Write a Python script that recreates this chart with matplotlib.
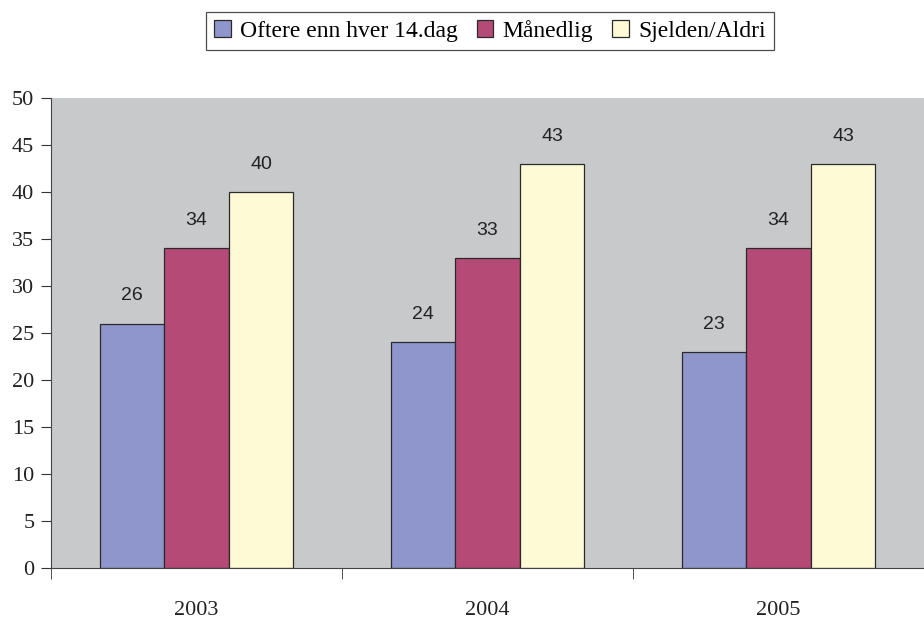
import matplotlib
matplotlib.use('Agg')
import matplotlib.pyplot as plt
import numpy as np

years = ['2003', '2004', '2005']
series = ['Oftere enn hver 14.dag', 'Månedlig', 'Sjelden/Aldri']
values = [
    [26, 24, 23],
    [34, 33, 34],
    [40, 43, 43],
]
colors = ['#8E96CC', '#B54A76', '#FEFAD6']

fig = plt.figure(figsize=(9.24, 6.2), dpi=100)
ax = fig.add_axes([51 / 924, 52 / 620, 1 - 51 / 924, 470 / 620])
ax.set_facecolor('#C8C9CB')

x = np.arange(len(years))
w = 0.222
for i, (name, vals, col) in enumerate(zip(series, values, colors)):
    ax.bar(x + (i - 1) * w, vals, w, color=col, edgecolor='#2a2a2a',
           linewidth=0.9, label=name, zorder=2)
    for xi, v in zip(x + (i - 1) * w, vals):
        ax.annotate(str(v), (xi, v), xytext=(0, 20), textcoords='offset points',
                    ha='center', va='center', fontsize=14,
                    family='Liberation Sans', color='#222222')

ax.set_ylim(0, 50)
ax.set_xlim(-0.5, 2.49)
ax.set_yticks(np.arange(0, 51, 5))
ax.set_xticks(x)
ax.set_xticklabels(years)
ax.set_xticks([-0.5, 0.5, 1.5, 2.5], minor=True)
ax.tick_params(axis='x', which='major', length=0, pad=24)
ax.tick_params(axis='x', which='minor', length=8, direction='out', color='#333333')
ax.tick_params(axis='y', length=7, direction='out', color='#333333', pad=5)
for lab in ax.get_xticklabels() + ax.get_yticklabels():
    lab.set_family('Liberation Serif')
    lab.set_fontsize(16)
    lab.set_color('#222222')

for s in ['top', 'right']:
    ax.spines[s].set_visible(False)
ax.spines['left'].set_color('#444444')
ax.spines['bottom'].set_color('#444444')

leg = fig.legend(loc='center', bbox_to_anchor=(490 / 924, 1 - 31 / 620), ncol=3,
                 frameon=True, fancybox=False, edgecolor='#222222',
                 prop={'family': 'Liberation Serif', 'size': 17},
                 handlelength=0.7, handleheight=0.7, handletextpad=0.4,
                 columnspacing=0.8, borderpad=0.35)
leg.get_frame().set_linewidth(0.9)

fig.savefig('out.png', dpi=100)
